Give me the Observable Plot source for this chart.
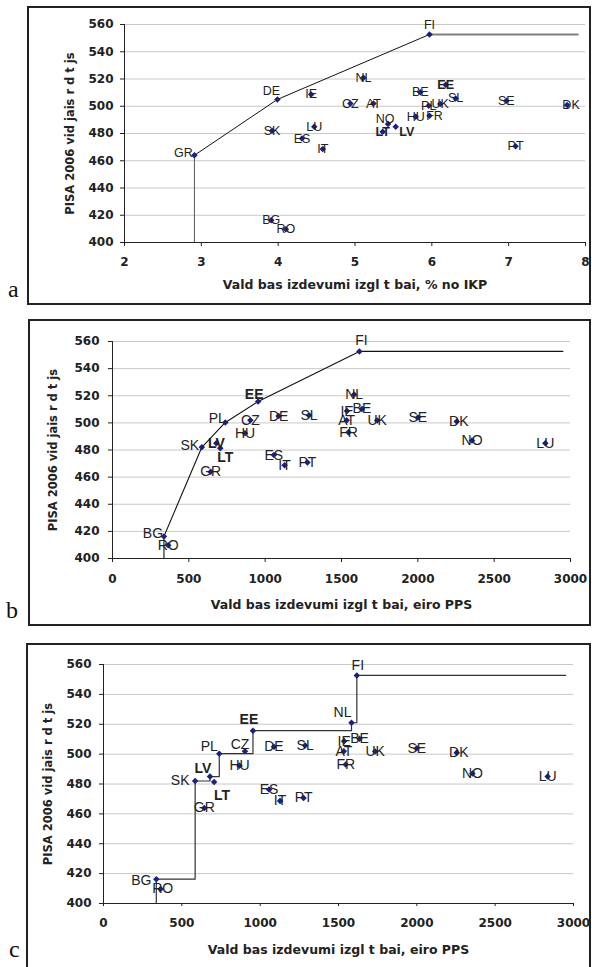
<!DOCTYPE html>
<html><head><meta charset="utf-8">
<script src="https://cdn.jsdelivr.net/npm/d3@7"></script>
<script src="https://cdn.jsdelivr.net/npm/@observablehq/plot@0.6"></script>
<style>
body{margin:0;background:#fff;}
#page{position:relative;width:592px;height:967px;overflow:hidden;background:#fff;}
.box{position:absolute;border:2px solid #222;box-sizing:border-box;pointer-events:none;}
.letter{position:absolute;font-family:"Liberation Serif","DejaVu Serif",serif;font-size:24px;line-height:24px;color:#111;}
.panel{position:absolute;}
</style>
</head><body><div id="page"></div>
<script>
// ---------- data ----------
const countries = ["BE","BG","CZ","DK","DE","EE","IE","GR","ES","FR","IT","LV","LT","LU","HU","NL","AT","PL","PT","RO","SL","SK","FI","SE","UK","NO"];
const pisaScore = [510.3,416.3,502.0,501.0,505.0,515.7,508.7,464.0,476.3,493.0,468.7,485.0,481.3,485.0,492.3,521.0,502.0,500.3,470.7,409.7,505.7,482.0,552.7,504.0,501.7,487.0];
const spendGdp  = [5.85,3.91,4.94,7.76,3.99,6.18,4.43,2.91,4.31,5.97,4.58,5.53,5.36,4.47,5.79,5.11,5.24,5.96,7.09,4.10,6.31,3.92,5.97,6.97,6.11,5.43];
const spendPps  = [1634,337,903,2255,1088,954,1536,643,1057,1546,1127,680,706,2835,868,1583,1534,739,1277,365,1287,585,1617,2000,1734,2355];
const boldCountries = ["EE","LV","LT"];

const yTicks = [400,420,440,460,480,500,520,540,560];
const xTicksGdp = [2,3,4,5,6,7,8];
const xTicksPps = [0,500,1000,1500,2000,2500,3000];

const frontierA = ["GR","DE","FI"];            const frontierAEnd = 7.9;
const frontierB = ["BG","SK","PL","EE","FI"];  const frontierBEnd = 2950;
const frontierC = ["BG","SK","LV","PL","EE","NL","FI"]; const frontierCEnd = 2950;

const yTitle = "PISA 2006 vid jais r d t js";
const xTitleA = "Vald bas izdevumi izgl t bai, % no IKP";
const xTitleB = "Vald bas izdevumi izgl t bai, eiro PPS";
const panelLetters = ["a","b","c"];

// label nudges (px) relative to each marker; default centred on the marker
const nudgeA = {FI:[0,-9],DE:[-6,-8],GR:[-11,-2],NO:[-3,-5],LV:[11,5],FR:[5,0],DK:[4,0]};
const nudgeB = {FI:[2,-11],EE:[-4,-7],PL:[-8,-4],SK:[-12,-2],LT:[5,9],BG:[-11,-3],DK:[2,0]};
const nudgeC = {FI:[1,-10],NL:[-9,-10],EE:[-4,-11],CZ:[-5,-7],PL:[-10,-7],LV:[-7,-8],SK:[-15,0],LT:[8,13],BG:[-15,1],RO:[2,0],DK:[2,0]};

// ---------- drawing ----------
const page = document.getElementById("page");

function panel(cfg){
  const rows = countries.map((c,i)=>({c, x: cfg.xs[i], y: pisaScore[i]}));
  const byC = Object.fromEntries(rows.map(r=>[r.c,r]));
  const xmin = cfg.xDomain[0];
  const marks = [
    Plot.ruleY(yTicks.filter(t=>t>400), {stroke:"#c8c8c8", strokeWidth:1}),
  ];
  const fpts = cfg.frontier.map(c=>({x:byC[c].x, y:byC[c].y}));
  const first = fpts[0], last = fpts[fpts.length-1];
  if (cfg.kind === "a") {
    marks.push(Plot.line([{x:first.x,y:400},first], {x:"x",y:"y",stroke:"#555",strokeWidth:1}));
    marks.push(Plot.line(fpts, {x:"x",y:"y",stroke:"#111",strokeWidth:1}));
    marks.push(Plot.line([last,{x:cfg.frontierEnd,y:last.y}], {x:"x",y:"y",stroke:"#808080",strokeWidth:2}));
  } else if (cfg.kind === "b") {
    const pts = [{x:first.x,y:400}, ...fpts, {x:cfg.frontierEnd,y:last.y}];
    marks.push(Plot.line(pts, {x:"x",y:"y",stroke:"#111",strokeWidth:1.1}));
  } else {
    const pts = [{x:first.x,y:400}, ...fpts, {x:cfg.frontierEnd,y:last.y}];
    marks.push(Plot.line(pts, {x:"x",y:"y",stroke:"#333",strokeWidth:1.2,curve:"step-after"}));
  }
  marks.push(Plot.ruleY([400], {stroke:"#222", strokeWidth:1}));
  marks.push(Plot.ruleX([xmin], {y1:400, y2:560, stroke:"#222", strokeWidth:1}));
  marks.push(Plot.dot(rows, {x:"x", y:"y", symbol:"square", r:2.6, rotate:45, fill:"#1d2080", stroke:"none"}));
  for (const r of rows) {
    const n = cfg.nudge[r.c] || [0,0];
    marks.push(Plot.text([r], {x:"x", y:"y", text:"c", dx:n[0], dy:n[1],
      fontFamily:"Liberation Sans, Arial, sans-serif", fontSize:cfg.labelSize,
      fontWeight: boldCountries.includes(r.c) ? "bold" : "normal", fill:"#222"}));
  }
  marks.push(Plot.text([cfg.xTitle], {frameAnchor:"bottom", dy:cfg.xTitleDy, text:d=>d,
    textAnchor:"middle", lineAnchor:"middle",
    fontFamily:"DejaVu Sans", fontSize:12.5, fontWeight:"bold", fill:"#222"}));
  marks.push(Plot.text([yTitle], {frameAnchor:"left", dx:-cfg.yTitleDx, rotate:-90, text:d=>d,
    textAnchor:"middle", lineAnchor:"middle",
    fontFamily:"DejaVu Sans", fontSize:11.5, fontWeight:"bold", fill:"#222"}));

  const svg = Plot.plot({
    width: cfg.width, height: cfg.height,
    marginLeft: cfg.m[0], marginRight: cfg.m[1], marginTop: cfg.m[2], marginBottom: cfg.m[3],
    x: {domain: cfg.xDomain, ticks: cfg.xTicks, tickSize: cfg.xTickSize, tickPadding: cfg.xTickPad, label: null, tickFormat: d=>String(d)},
    y: {domain: [400,560], ticks: yTicks, tickSize: 4, tickPadding: cfg.yTickPad, label: null, tickFormat: d=>String(d)},
    style: {fontFamily:"DejaVu Sans", fontSize:"12px", fontWeight:"bold", color:"#222", background:"transparent", overflow:"visible"},
    marks
  });
  const wrap = document.createElement("div");
  wrap.className = "panel";
  wrap.style.left = cfg.left+"px"; wrap.style.top = cfg.top+"px";
  wrap.appendChild(svg);
  page.appendChild(wrap);

  const box = document.createElement("div");
  box.className = "box";
  Object.assign(box.style, {left:cfg.box[0]+"px", top:cfg.box[1]+"px", width:cfg.box[2]+"px", height:cfg.box[3]+"px"});
  page.appendChild(box);

  const let_ = document.createElement("div");
  let_.className = "letter";
  let_.textContent = cfg.letter;
  Object.assign(let_.style, {left:cfg.letterPos[0]+"px", top:cfg.letterPos[1]+"px"});
  page.appendChild(let_);
}

panel({kind:"a", xs: spendGdp, xDomain:[2,8], xTicks: xTicksGdp, frontier: frontierA, frontierEnd: frontierAEnd,
  nudge: nudgeA, labelSize: 12.5, left:27, top:6, width:563, height:298, m:[97,5,18,62],
  xTickSize:4, xTickPad:11, yTickPad:7, xTitle: xTitleA, xTitleDy:42, yTitleDx:54,
  box:[27,6,564,299], letter: panelLetters[0], letterPos:[8,277]});

panel({kind:"b", xs: spendPps, xDomain:[0,3000], xTicks: xTicksPps, frontier: frontierB, frontierEnd: frontierBEnd,
  nudge: nudgeB, labelSize: 14, left:28, top:319, width:562, height:306, m:[84,20,22,67],
  xTickSize:4, xTickPad:12, yTickPad:9, xTitle: xTitleB, xTitleDy:46, yTitleDx:59,
  box:[28,319,563,307], letter: panelLetters[1], letterPos:[6,598]});

panel({kind:"c", xs: spendPps, xDomain:[0,3000], xTicks: xTicksPps, frontier: frontierC, frontierEnd: frontierCEnd,
  nudge: nudgeC, labelSize: 14, left:26, top:643, width:564, height:324, m:[77,17,21,64],
  xTickSize:3, xTickPad:12, yTickPad:8, xTitle: xTitleB, xTitleDy:46, yTitleDx:55,
  box:[26,643,565,340], letter: panelLetters[2], letterPos:[9,937]});
</script>
</body></html>
